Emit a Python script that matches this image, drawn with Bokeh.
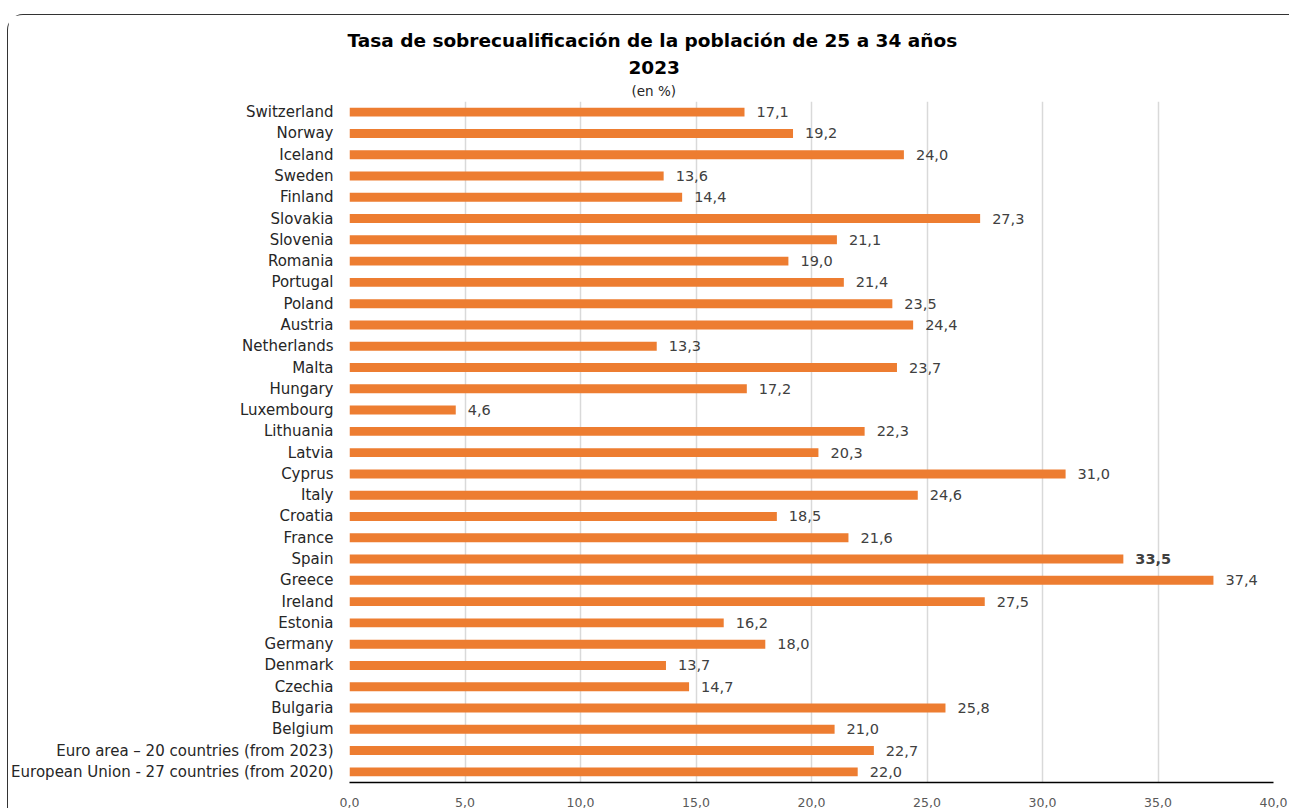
from bokeh.plotting import figure
from bokeh.models import ColumnDataSource, FixedTicker, CustomJSTickFormatter, Title, FactorRange, Range1d
from bokeh.core.properties import value
from bokeh.embed import file_html
from bokeh.resources import INLINE

countries = [
    "Switzerland", "Norway", "Iceland", "Sweden", "Finland", "Slovakia", "Slovenia",
    "Romania", "Portugal", "Poland", "Austria", "Netherlands", "Malta", "Hungary",
    "Luxembourg", "Lithuania", "Latvia", "Cyprus", "Italy", "Croatia", "France",
    "Spain", "Greece", "Ireland", "Estonia", "Germany", "Denmark", "Czechia",
    "Bulgaria", "Belgium", "Euro area – 20 countries (from 2023)",
    "European Union - 27 countries (from 2020)",
]
rates = [
    17.1, 19.2, 24.0, 13.6, 14.4, 27.3, 21.1,
    19.0, 21.4, 23.5, 24.4, 13.3, 23.7, 17.2,
    4.6, 22.3, 20.3, 31.0, 24.6, 18.5, 21.6,
    33.5, 37.4, 27.5, 16.2, 18.0, 13.7, 14.7,
    25.8, 21.0, 22.7, 22.0,
]
x_ticks = [0, 5, 10, 15, 20, 25, 30, 35, 40]
highlight = "Spain"

FONT = "DejaVu Sans"
labels = [f"{v:.1f}".replace(".", ",") for v in rates]
normal = [i for i, c in enumerate(countries) if c != highlight]
bold = [i for i, c in enumerate(countries) if c == highlight]

src = ColumnDataSource(dict(cat=countries, val=rates, lab=labels))
src_n = ColumnDataSource(dict(cat=[countries[i] for i in normal], val=[rates[i] for i in normal], lab=[labels[i] for i in normal]))
src_b = ColumnDataSource(dict(cat=[countries[i] for i in bold], val=[rates[i] for i in bold], lab=[labels[i] for i in bold]))

p = figure(
    width=1282, height=794,
    y_range=FactorRange(factors=list(reversed(countries)), range_padding=0),
    x_range=Range1d(0, 40),
    output_backend="svg", toolbar_location=None,
    min_border_left=340, min_border_right=17, min_border_bottom=27, min_border_top=86,
)
p.styles = {"margin-left": "7px", "margin-top": "14px",
            "border-top": "1.5px solid #333", "border-left": "1.5px solid #333",
            "border-top-left-radius": "16px"}

p.hbar(y="cat", right="val", left=0, height=0.42, source=src, color="#ED7D31", line_color=None)
p.text(x="val", y="cat", text="lab", source=src_n, x_offset=12, text_baseline="middle",
       text_font=value(FONT), text_font_size="14.5px", text_color="#404040")
p.text(x="val", y="cat", text="lab", source=src_b, x_offset=12, text_baseline="middle",
       text_font=value(FONT), text_font_size="14.5px", text_color="#404040", text_font_style="bold")

p.outline_line_color = None
p.ygrid.grid_line_color = None
p.xgrid.grid_line_color = "#d9d9d9"
p.xgrid.grid_line_width = 1.5
p.xgrid.ticker = FixedTicker(ticks=x_ticks)

p.xaxis.ticker = FixedTicker(ticks=x_ticks)
p.xaxis.formatter = CustomJSTickFormatter(code="return tick.toFixed(1).replace('.', ',');")
p.xaxis.axis_line_color = "#000000"
p.xaxis.axis_line_width = 1.5
p.xaxis.major_tick_line_color = None
p.xaxis.minor_tick_line_color = None
p.xaxis.major_label_text_font = FONT
p.xaxis.major_label_text_font_size = "12.5px"
p.xaxis.major_label_text_color = "#595959"
p.xaxis.major_label_standoff = 9

p.yaxis.axis_line_color = None
p.yaxis.major_tick_line_color = None
p.yaxis.minor_tick_line_color = None
p.yaxis.major_label_text_font = FONT
p.yaxis.major_label_text_font_size = "15px"
p.yaxis.major_label_text_color = "#262626"
p.yaxis.major_label_standoff = 10

t3 = Title(text="(en %)", align="left", offset=282, text_font=FONT, text_font_size="13.5px",
           text_font_style="normal", text_color="#262626", standoff=6)
t2 = Title(text="2023", align="left", offset=279, text_font=FONT, text_font_size="18.5px",
           text_font_style="bold", text_color="#000000", standoff=8)
t1 = Title(text="Tasa de sobrecualificación de la población de 25 a 34 años", align="left",
           offset=-2, text_font=FONT, text_font_size="18.5px", text_font_style="bold",
           text_color="#000000", standoff=7)
p.add_layout(t3, "above")
p.add_layout(t2, "above")
p.add_layout(t1, "above")

open("out.html", "w").write(file_html(p, INLINE))
